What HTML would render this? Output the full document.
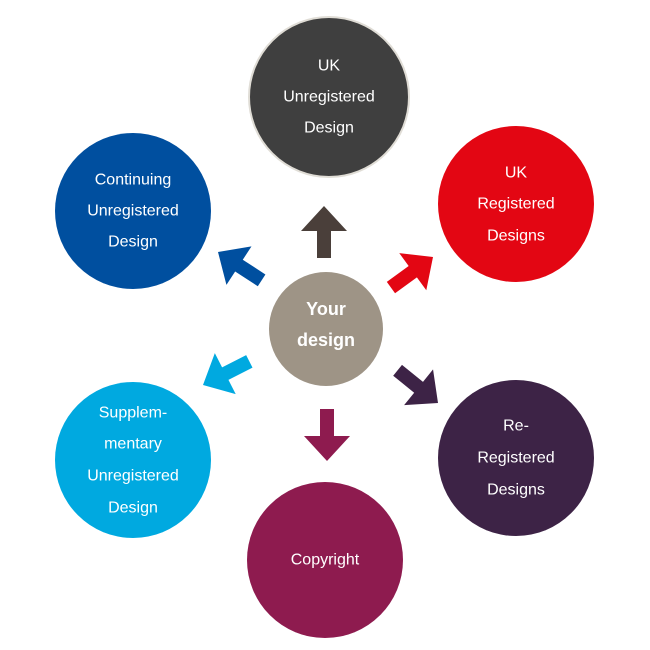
<!DOCTYPE html>
<html><head><meta charset="utf-8"><style>
html,body{margin:0;padding:0;background:#fff;}
svg{display:block}
text{font-family:"Liberation Sans",sans-serif;font-size:16px;fill:#fff;text-anchor:middle;dominant-baseline:central}
</style></head><body>
<svg width="650" height="650" viewBox="0 0 650 650">
<defs>
<polygon id="ar" points="0,0 23,25 7,25 7,52 -7,52 -7,25 -23,25"/>
</defs>
<circle cx="329" cy="97" r="80" fill="#3f3f3f" stroke="#e0ddd6" stroke-width="2"/>
<text x="329" y="66">UK</text><text x="329" y="97">Unregistered</text><text x="329" y="128">Design</text>

<circle cx="516" cy="204" r="78" fill="#e30613"/>
<text x="516" y="173">UK</text><text x="516" y="204">Registered</text><text x="516" y="236">Designs</text>

<circle cx="133" cy="211" r="78" fill="#004f9f"/>
<text x="133" y="180">Continuing</text><text x="133" y="211">Unregistered</text><text x="133" y="242">Design</text>

<circle cx="133" cy="460" r="78" fill="#00a9e0"/>
<text x="133" y="413">Supplem-</text><text x="133" y="444">mentary</text><text x="133" y="476">Unregistered</text><text x="133" y="508">Design</text>

<circle cx="325" cy="560" r="78" fill="#8e1b4f"/>
<text x="325" y="560">Copyright</text>

<circle cx="516" cy="458" r="78" fill="#3d2346"/>
<text x="516" y="426">Re-</text><text x="516" y="458">Registered</text><text x="516" y="490">Designs</text>

<circle cx="326" cy="329" r="57" fill="#9e9486"/>
<text x="326" y="309" style="font-size:18px;font-weight:bold">Your</text>
<text x="326" y="340" style="font-size:18px;font-weight:bold">design</text>

<use href="#ar" transform="translate(324,206)" fill="#4a3f3a"/>
<use href="#ar" transform="translate(327,461) rotate(180)" fill="#8e1b4f"/>
<use href="#ar" transform="translate(218,252) rotate(-57)" fill="#004f9f"/>
<use href="#ar" transform="translate(433,257) rotate(54)" fill="#e30613"/>
<use href="#ar" transform="translate(438,403) rotate(129)" fill="#3d2346"/>
<use href="#ar" transform="translate(203,385) rotate(-117)" fill="#00a9e0"/>
</svg>
</body></html>
